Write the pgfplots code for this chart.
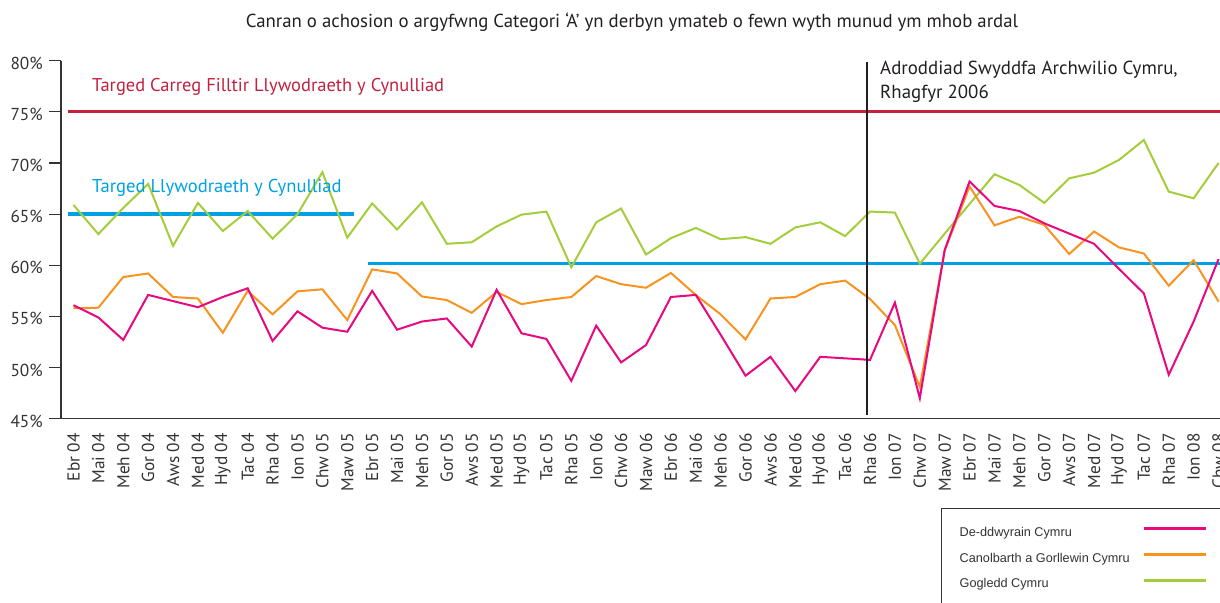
\documentclass[border=0pt]{standalone}
\usepackage{fontspec}
\setmainfont{PT Sans}
\newfontfamily\legfont{Liberation Sans}
\usepackage{pgfplots}
\pgfplotsset{compat=1.18}
\definecolor{tred}{HTML}{C4213F}
\definecolor{tblue}{HTML}{00A1E4}
\definecolor{cpink}{HTML}{E6097F}
\definecolor{corange}{HTML}{F7931E}
\definecolor{cgreen}{HTML}{A3CD3A}
\definecolor{txt}{HTML}{231F20}
\definecolor{axc}{HTML}{333333}
\begin{document}
\begin{tikzpicture}
\begin{axis}[
  at={(61pt,183.3pt)}, anchor=south west,
  scale only axis, width=1170pt, height=358pt,
  xmin=-0.5, xmax=46.5, ymin=45, ymax=80,
  axis x line=bottom, axis y line=left,
  axis line style={-, axc, line width=1.3pt},
  tick align=outside,
  major tick length=12pt, minor tick length=10pt,
  tick style={axc, line width=1.2pt},
  xtick={0,...,46}, xtick style={draw=none},
  minor xtick={-0.5,0.5,...,46.5},
  xticklabels={Ebr 04,Mai 04,Meh 04,Gor 04,Aws 04,Med 04,Hyd 04,Tac 04,Rha 04,Ion 05,Chw 05,Maw 05,Ebr 05,Mai 05,Meh 05,Gor 05,Aws 05,Med 05,Hyd 05,Tac 05,Rha 05,Ion 06,Chw 06,Maw 06,Ebr 06,Mai 06,Meh 06,Gor 06,Aws 06,Med 06,Hyd 06,Tac 06,Rha 06,Ion 07,Chw 07,Maw 07,Ebr 07,Mai 07,Meh 07,Gor 07,Aws 07,Med 07,Hyd 07,Tac 07,Rha 07,Ion 08,Chw 08},
  xticklabel style={rotate=90, anchor=east, inner sep=2.3pt, font=\fontsize{17.3}{20}\selectfont, text=axc},
  ytick={45,50,...,80},
  yticklabels={45\%,50\%,55\%,60\%,65\%,70\%,75\%,80\%},
  yticklabel style={inner sep=6pt, yshift=-2.5pt, font=\fontsize{17.3}{20}\selectfont, text=axc},
  legend cell align=left,
  legend plot pos=right,
  legend style={at={(axis description cs:0.7519,-0.2486)}, anchor=north west,
    draw=axc, line width=1.3pt, inner xsep=18.3pt, inner ysep=19pt,
    column sep=12.4pt, row sep=13.7pt,
    nodes={inner sep=0pt, text height=9pt, text depth=3pt, font=\legfont\fontsize{12.7}{14}\selectfont, text=axc}},
  legend image code/.code={\draw[#1, line width=3pt] (0pt,4.5pt) -- (62pt,4.5pt);},
]
% target lines
\addplot[tred, line width=3.3pt, forget plot] coordinates {(-0.23,75) (47,75)};
\addplot[tblue, line width=3.3pt, forget plot] coordinates {(-0.23,65) (11.27,65)};
\addplot[tblue, line width=3.3pt, forget plot] coordinates {(11.82,60.15) (47,60.15)};
% green
\addplot[cgreen, line width=2pt, forget plot] coordinates {
(0,65.9) (1,63.05) (2,65.6) (3,67.95) (4,61.9) (5,66.1) (6,63.35) (7,65.3) (8,62.6) (9,65.0)
(10,69.1) (11,62.7) (12,66.05) (13,63.5) (14,66.15) (15,62.1) (16,62.25) (17,63.8) (18,64.95) (19,65.25)
(20,59.8) (21,64.2) (22,65.55) (23,61.05) (24,62.65) (25,63.65) (26,62.55) (27,62.75) (28,62.1) (29,63.7)
(30,64.2) (31,62.85) (32,65.25) (33,65.15) (34,60.15) (35,63.1) (36,66.0) (37,68.9) (38,67.85) (39,66.1)
(40,68.5) (41,69.05) (42,70.3) (43,72.25) (44,67.2) (45,66.55) (46,70.0)};
% orange
\addplot[corange, line width=2pt, forget plot] coordinates {
(0,55.8) (1,55.85) (2,58.85) (3,59.2) (4,56.9) (5,56.75) (6,53.4) (7,57.5) (8,55.2) (9,57.45)
(10,57.65) (11,54.65) (12,59.6) (13,59.2) (14,56.95) (15,56.6) (16,55.35) (17,57.4) (18,56.2) (19,56.6)
(20,56.9) (21,58.95) (22,58.15) (23,57.8) (24,59.25) (25,57.1) (26,55.2) (27,52.75) (28,56.75) (29,56.9)
(30,58.15) (31,58.5) (32,56.7) (33,54.15) (34,48.1) (35,61.45) (36,67.7) (37,63.9) (38,64.75) (39,63.95)
(40,61.1) (41,63.3) (42,61.75) (43,61.15) (44,58.0) (45,60.5) (46,56.45)};
% pink
\addplot[cpink, line width=2pt, forget plot] coordinates {
(0,56.1) (1,54.9) (2,52.7) (3,57.1) (4,56.5) (5,55.9) (6,56.9) (7,57.75) (8,52.6) (9,55.5)
(10,53.9) (11,53.5) (12,57.5) (13,53.7) (14,54.5) (15,54.8) (16,52.05) (17,57.6) (18,53.35) (19,52.8)
(20,48.7) (21,54.1) (22,50.5) (23,52.2) (24,56.9) (25,57.1) (26,53.2) (27,49.2) (28,51.05) (29,47.7)
(30,51.05) (31,50.9) (32,50.75) (33,56.35) (34,47.0) (35,61.5) (36,68.2) (37,65.8) (38,65.3) (39,64.1)
(40,63.1) (41,62.1) (42,59.65) (43,57.25) (44,49.3) (45,54.5) (46,60.6)};
% vertical marker
\addplot[txt, line width=1.5pt, forget plot] coordinates {(31.88,45.35) (31.88,79.9)};
\addlegendimage{cpink}
\addlegendentry{De-ddwyrain Cymru}
\addlegendimage{corange}
\addlegendentry{Canolbarth a Gorllewin Cymru}
\addlegendimage{cgreen}
\addlegendentry{Gogledd Cymru}
\end{axis}
\node[anchor=base, text=txt, font=\fontsize{18.8}{22}\selectfont] at (632pt,574pt) {Canran o achosion o argyfwng Categori ‘A’ yn derbyn ymateb o fewn wyth munud ym mhob ardal};
\node[anchor=base west, inner sep=0pt, text=tred, font=\fontsize{18.5}{22}\selectfont] at (92pt,510pt) {Targed Carreg Filltir Llywodraeth y Cynulliad};
\node[anchor=base west, inner sep=0pt, text=tblue, font=\fontsize{18.6}{22}\selectfont] at (92pt,409.3pt) {Targed Llywodraeth y Cynulliad};
\node[anchor=base west, inner sep=0pt, text=txt, font=\fontsize{18.9}{22}\selectfont] at (880pt,527pt) {Adroddiad Swyddfa Archwilio Cymru,};
\node[anchor=base west, inner sep=0pt, text=txt, font=\fontsize{18.9}{22}\selectfont] at (880pt,503.7pt) {Rhagfyr 2006};
\pgfresetboundingbox
\path[use as bounding box] (0pt,0pt) rectangle (1220pt,602pt);
\end{tikzpicture}
\end{document}
